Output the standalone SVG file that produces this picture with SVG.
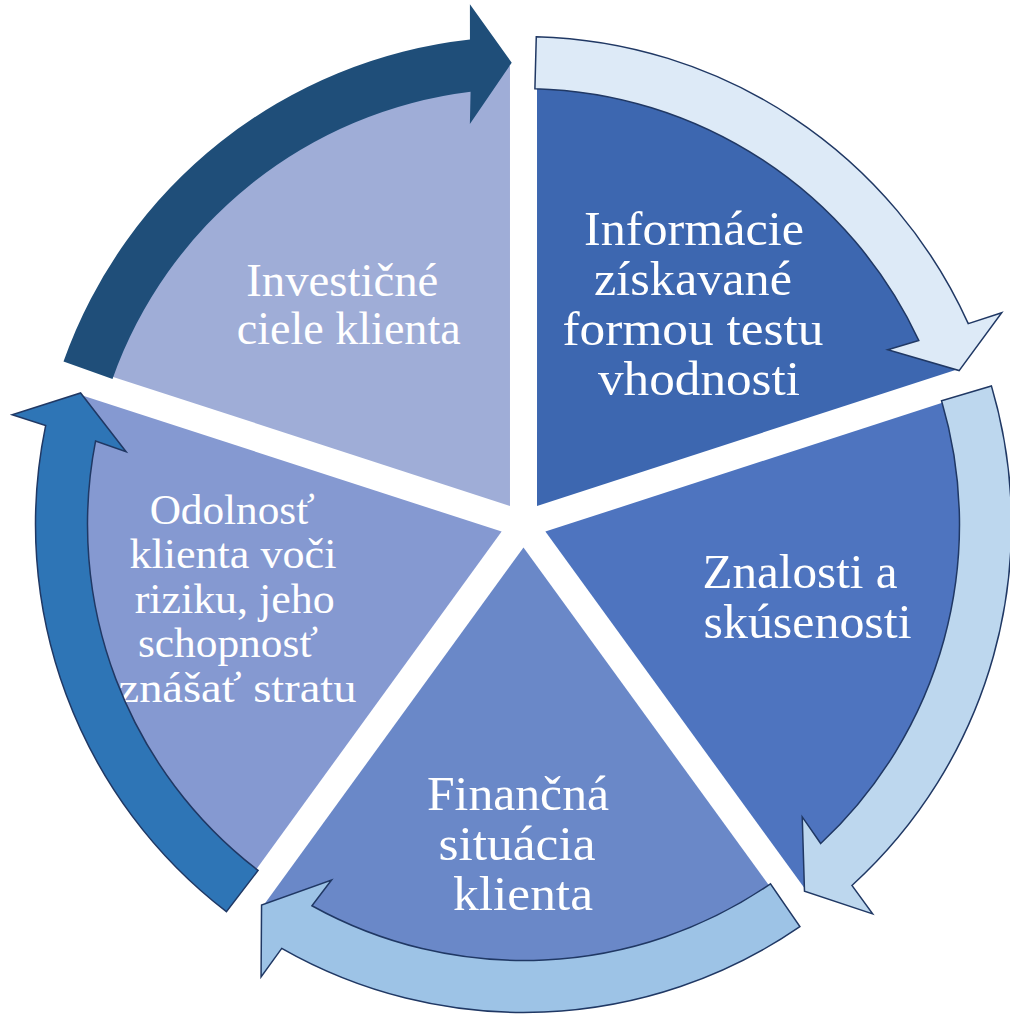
<svg xmlns="http://www.w3.org/2000/svg" width="1010" height="1017" viewBox="0 0 1010 1017">
<style>
.seg{stroke:none}
.arr{stroke:#203864;stroke-width:1.5;stroke-linejoin:miter}
.lbl{font-family:"Liberation Serif","DejaVu Serif",serif;fill:#ffffff;text-anchor:middle}
</style>
<defs>
<path id="arrowShape" d="M 536.28 36.67 A 488 488 0 0 1 968.26 323.68 L 1001.72 312.77 L 959.11 370.58 L 887.75 349.77 L 918.74 340.43 A 436 436 0 0 0 534.91 88.65 Z"/>
</defs>
<rect width="1010" height="1017" fill="#ffffff"/>
<g id="node-1">
<path class="seg" fill="#3D67B0" d="M 537.02 505.89 L 537.02 65.89 A 440 440 0 0 1 955.49 369.92 Z"/>
<text class="lbl" font-size="48">
<tspan x="700" y="245" textLength="220" lengthAdjust="spacingAndGlyphs">Informácie</tspan>
<tspan x="699" y="295" textLength="198" lengthAdjust="spacingAndGlyphs">získavané</tspan>
<tspan x="699" y="345" textLength="261" lengthAdjust="spacingAndGlyphs">formou testu</tspan>
<tspan x="699" y="395" textLength="202" lengthAdjust="spacingAndGlyphs">vhodnosti</tspan>
</text>
</g>
<g id="node-2">
<path class="seg" fill="#4E74BF" d="M 545.37 531.61 L 963.84 395.64 A 440 440 0 0 1 804.00 887.58 Z"/>
<text class="lbl" font-size="48">
<tspan x="806" y="588" textLength="195" lengthAdjust="spacingAndGlyphs">Znalosti a</tspan>
<tspan x="807.5" y="638" textLength="208" lengthAdjust="spacingAndGlyphs">skúsenosti</tspan>
</text>
</g>
<g id="node-3">
<path class="seg" fill="#6A88C8" d="M 523.5 547.5 L 782.13 903.47 A 440 440 0 0 1 264.87 903.47 Z"/>
<text class="lbl" font-size="48">
<tspan x="524" y="810" textLength="182" lengthAdjust="spacingAndGlyphs">Finančná</tspan>
<tspan x="523" y="860" textLength="157" lengthAdjust="spacingAndGlyphs">situácia</tspan>
<tspan x="523" y="909.5" textLength="140" lengthAdjust="spacingAndGlyphs">klienta</tspan>
</text>
</g>
<g id="node-4">
<path class="seg" fill="#8599D1" d="M 501.63 531.61 L 243.00 887.58 A 440 440 0 0 1 83.16 395.64 Z"/>
<text class="lbl" font-size="43">
<tspan x="237.5" y="523.5" textLength="165" lengthAdjust="spacingAndGlyphs">Odolnosť</tspan>
<tspan x="238.3" y="568" textLength="207" lengthAdjust="spacingAndGlyphs">klienta voči</tspan>
<tspan x="240" y="612.5" textLength="200" lengthAdjust="spacingAndGlyphs">riziku, jeho</tspan>
<tspan x="233.3" y="657" textLength="180" lengthAdjust="spacingAndGlyphs">schopnosť</tspan>
<tspan x="237.5" y="701.5" textLength="238" lengthAdjust="spacingAndGlyphs">znášať stratu</tspan>
</text>
</g>
<g id="node-5">
<path class="seg" fill="#9FADD7" d="M 509.98 505.89 L 91.51 369.92 A 440 440 0 0 1 509.98 65.89 Z"/>
<text class="lbl" font-size="46">
<tspan x="348" y="295.5" textLength="192" lengthAdjust="spacingAndGlyphs">Investičné</tspan>
<tspan x="348.7" y="344" textLength="224" lengthAdjust="spacingAndGlyphs">ciele klienta</tspan>
</text>
</g>
<g id="connectors">
<use href="#arrowShape" class="arr" fill="#DDEAF7"/>
<use href="#arrowShape" class="arr" fill="#BDD7EE" transform="rotate(72 523.5 524.5)"/>
<use href="#arrowShape" class="arr" fill="#9DC3E6" transform="rotate(144 523.5 524.5)"/>
<use href="#arrowShape" class="arr" fill="#2E75B6" transform="rotate(216 523.5 524.5)"/>
<use href="#arrowShape" fill="#1F4E79" stroke="none" transform="rotate(288 523.5 524.5)"/>
</g>
</svg>
